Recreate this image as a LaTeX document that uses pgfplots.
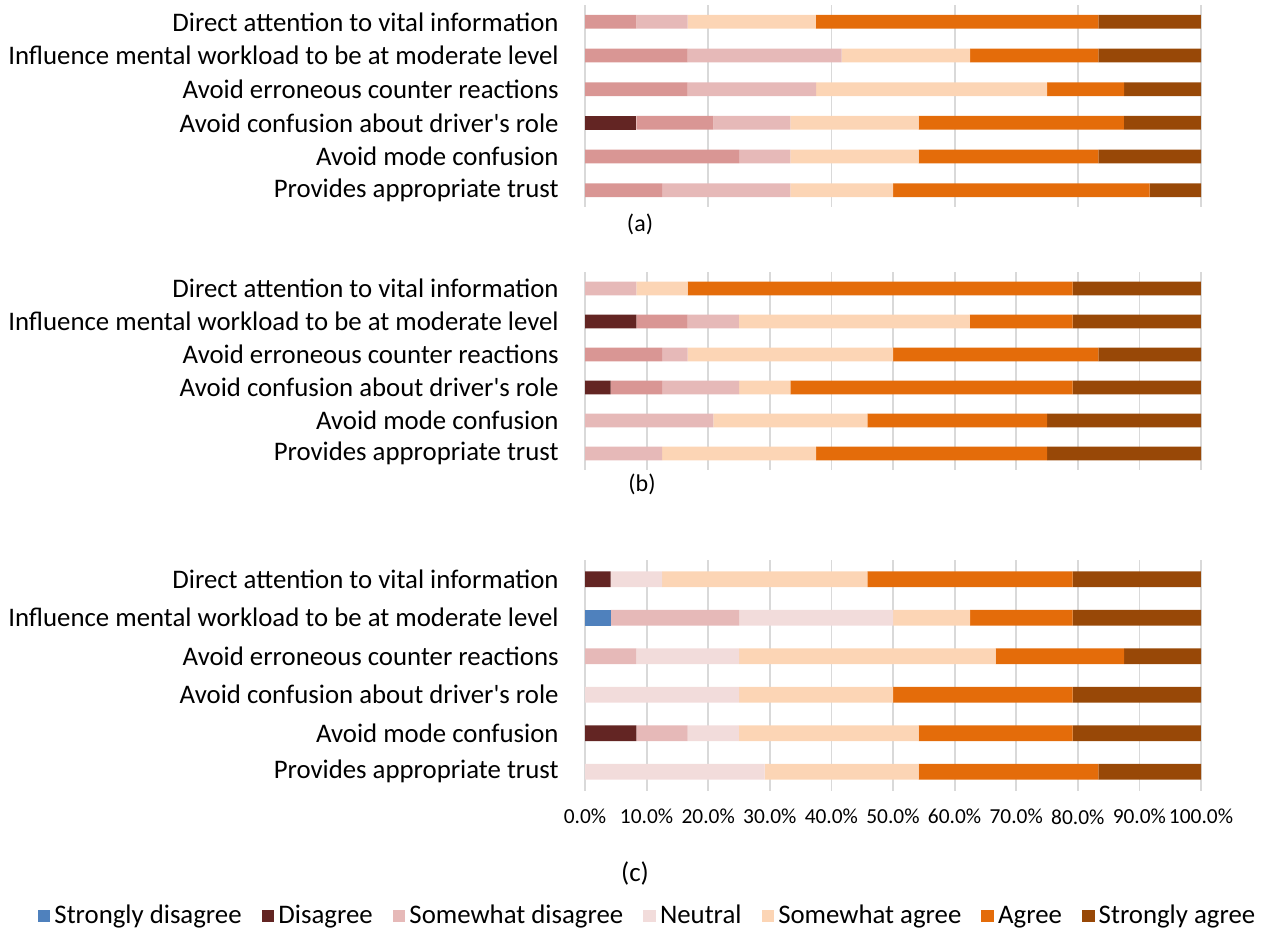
\documentclass[border=0pt]{standalone}
\usepackage{fontspec}
\setmainfont{Carlito}
\usepackage{pgfplots}
\pgfplotsset{compat=1.18}
\definecolor{cSD}{HTML}{4F81BD}
\definecolor{cD}{HTML}{632523}
\definecolor{cDP}{HTML}{D99694}
\definecolor{cLP}{HTML}{E6B9B8}
\definecolor{cN}{HTML}{F2DCDB}
\definecolor{cSA}{HTML}{FCD5B5}
\definecolor{cA}{HTML}{E46C0A}
\definecolor{cStA}{HTML}{984807}
\definecolor{gridgray}{HTML}{D9D9D9}
\pgfplotsset{
  likert/.style={
    xbar stacked, scale only axis, width=308pt,
    xmin=0, xmax=100, ymin=-0.5, ymax=5.5,
    bar width=0.41,
    axis line style={draw=none}, tick style={draw=none},
    xmajorgrids, grid style={color=gridgray, line width=0.9pt},
    ytick={0,1,2,3,4,5},
    yticklabels={Provides appropriate trust, Avoid mode confusion, Avoid confusion about driver\textquotesingle s role, Avoid erroneous counter reactions, Influence mental workload to be at moderate level, Direct attention to vital information},
    yticklabel style={font=\fontsize{13.4}{15}\selectfont, anchor=east, inner sep=0pt, xshift=-13pt},
    anchor=south west,
  },
  lg/.style={legend image code/.code={\path[#1] (0pt,-3.2pt) rectangle (6.4pt,3.2pt);}},
}
\begin{document}
\begin{tikzpicture}
\useasboundingbox (0,0) rectangle (631.5pt,465.5pt);
% ---------- (a)
\begin{axis}[likert, at={(292.5pt,362pt)}, height=101pt, xtick={0,20,...,100}, xticklabels={}]
\addplot[fill=cD, draw=none] coordinates {(0,5) (0,4) (0,3) (8.33,2) (0,1) (0,0)};
\addplot[fill=cDP, draw=none] coordinates {(8.33,5) (16.67,4) (16.67,3) (12.5,2) (25,1) (12.5,0)};
\addplot[fill=cLP, draw=none] coordinates {(8.33,5) (25,4) (20.83,3) (12.5,2) (8.33,1) (20.83,0)};
\addplot[fill=cSA, draw=none] coordinates {(20.83,5) (20.83,4) (37.5,3) (20.83,2) (20.83,1) (16.67,0)};
\addplot[fill=cA, draw=none] coordinates {(45.83,5) (20.83,4) (12.5,3) (33.33,2) (29.17,1) (41.67,0)};
\addplot[fill=cStA, draw=none] coordinates {(16.67,5) (16.67,4) (12.5,3) (12.5,2) (16.67,1) (8.33,0)};
\end{axis}
% ---------- (b)
\begin{axis}[likert, at={(292.5pt,230.5pt)}, height=99pt, xtick={0,10,...,100}, xticklabels={}]
\addplot[fill=cD, draw=none] coordinates {(0,5) (8.33,4) (0,3) (4.17,2) (0,1) (0,0)};
\addplot[fill=cDP, draw=none] coordinates {(0,5) (8.33,4) (12.5,3) (8.33,2) (0,1) (0,0)};
\addplot[fill=cLP, draw=none] coordinates {(8.33,5) (8.33,4) (4.17,3) (12.5,2) (20.83,1) (12.5,0)};
\addplot[fill=cSA, draw=none] coordinates {(8.33,5) (37.5,4) (33.33,3) (8.33,2) (25,1) (25,0)};
\addplot[fill=cA, draw=none] coordinates {(62.5,5) (16.67,4) (33.33,3) (45.83,2) (29.17,1) (37.5,0)};
\addplot[fill=cStA, draw=none] coordinates {(20.83,5) (20.83,4) (16.67,3) (20.83,2) (25,1) (25,0)};
\end{axis}
% ---------- (c)
\begin{axis}[likert, at={(292.5pt,70pt)}, height=115.5pt, xtick={0,10,...,100},
  xticklabels={0.0\%,10.0\%,20.0\%,30.0\%,40.0\%,50.0\%,60.0\%,70.0\%,80.0\%,90.0\%,100.0\%},
  xticklabel style={font=\fontsize{10.7}{12}\selectfont, anchor=north, inner sep=0pt, yshift=-9pt},
  legend columns=7,
  legend style={draw=none, at={(0.103,-0.541)}, anchor=center, font=\fontsize{13.4}{15}\selectfont,
    /tikz/every even column/.append style={column sep=8pt}},
  ]
\addplot[fill=cSD, draw=none, lg] coordinates {(0,5) (4.17,4) (0,3) (0,2) (0,1) (0,0)};
\addplot[fill=cD, draw=none, lg] coordinates {(4.17,5) (0,4) (0,3) (0,2) (8.33,1) (0,0)};
\addplot[fill=cLP, draw=none, lg] coordinates {(0,5) (20.83,4) (8.33,3) (0,2) (8.33,1) (0,0)};
\addplot[fill=cN, draw=none, lg] coordinates {(8.33,5) (25,4) (16.67,3) (25,2) (8.33,1) (29.17,0)};
\addplot[fill=cSA, draw=none, lg] coordinates {(33.33,5) (12.5,4) (41.67,3) (25,2) (29.17,1) (25,0)};
\addplot[fill=cA, draw=none, lg] coordinates {(33.33,5) (16.67,4) (20.83,3) (29.17,2) (25,1) (29.17,0)};
\addplot[fill=cStA, draw=none, lg] coordinates {(20.83,5) (20.83,4) (12.5,3) (20.83,2) (20.83,1) (16.67,0)};
\legend{Strongly disagree, Disagree, Somewhat disagree, Neutral, Somewhat agree, Agree, Strongly agree}
\end{axis}
\node[font=\fontsize{12}{14}\selectfont] at (320pt,353.5pt) {(a)};
\node[font=\fontsize{12}{14}\selectfont] at (321pt,223.5pt) {(b)};
\node[font=\fontsize{13.5}{15}\selectfont] at (317.5pt,29pt) {(c)};
\end{tikzpicture}
\end{document}
